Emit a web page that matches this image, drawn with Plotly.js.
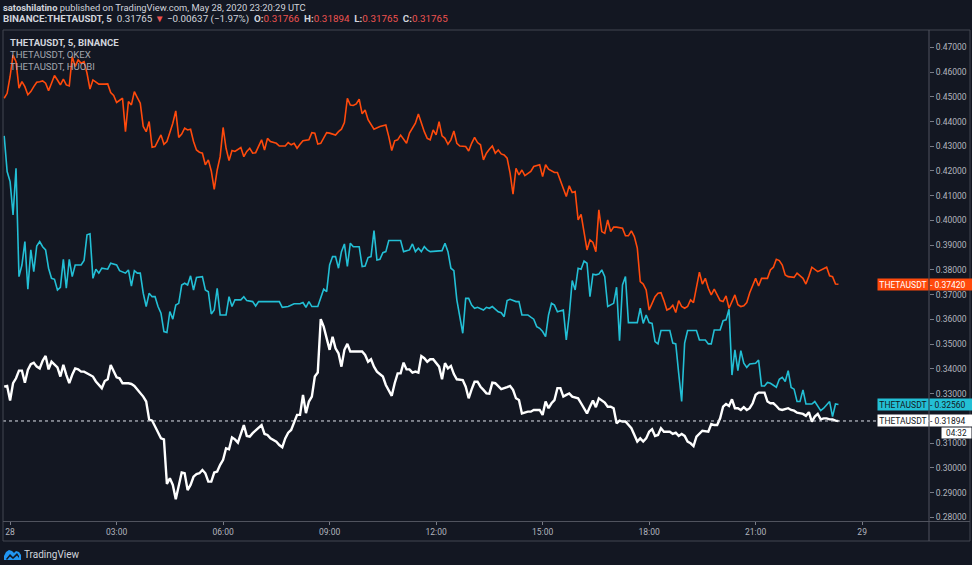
<!DOCTYPE html>
<html>
<head>
<meta charset="utf-8">
<script src="https://cdn.plot.ly/plotly-3.0.1.min.js"></script>
<style>
html,body{margin:0;padding:0;background:#131722;}
#chart{width:972px;height:565px;}
</style>
</head>
<body>
<div id="chart"></div>
<script>
// ---- data (x = minutes after 2020-05-28 00:00 UTC) ----
const timeTickVals = [0, 180, 360, 540, 720, 900, 1080, 1260, 1440];
const timeTickText = ['28', '03:00', '06:00', '09:00', '12:00', '15:00', '18:00', '21:00', '29'];
// price ticks shown on the right scale (0.32000 is hidden behind the last-price label)
const priceTicks = [0.28, 0.29, 0.30, 0.31, 0.33, 0.34, 0.35, 0.36, 0.37, 0.38, 0.39, 0.40, 0.41, 0.42, 0.43, 0.44, 0.45, 0.46, 0.47];

const okexMin = [-10,-5,0,5,10,15,20,25,30,35,40,45,50,55,60,65,70,75,80,85,90,95,100,105,110,115,120,125,130,135,140,145,150,160,165,170,175,180,185,190,195,200,205,210,215,220,225,230,235,240,245,250,255,260,265,270,275,280,285,290,295,300,305,310,315,320,325,330,335,340,345,350,355,360,365,370,375,380,390,395,400,405,410,415,420,425,430,435,440,450,455,465,470,475,480,485,490,495,505,510,515,520,525,530,535,540,550,555,560,565,570,575,580,585,590,595,600,605,610,615,625,635,640,645,650,655,660,665,670,675,685,690,695,700,705,710,715,720,725,730,735,740,745,750,755,760,770,775,780,785,790,795,800,805,810,815,820,825,830,835,840,845,850,855,860,865,870,875,880,885,895,900,905,910,920,925,930,935,940,945,950,955,960,965,970,975,980,985,990,995,1000,1005,1010,1015,1020,1025,1035,1040,1045,1050,1055,1060,1065,1070,1075,1080,1085,1090,1095,1100,1105,1110,1115,1120,1125,1130,1135,1140,1145,1150,1155,1160,1165,1170,1175,1180,1185,1190,1195,1200,1205,1210,1215,1220,1225,1230,1235,1240,1245,1250,1260,1265,1270,1280,1285,1290,1295,1300,1305,1310,1315,1325,1330,1340,1345,1350,1355,1365,1370,1380,1385,1390,1395,1400];
const okexVal = [0.4494,0.4514,0.4582,0.4669,0.4642,0.4535,0.4561,0.4541,0.4508,0.4521,0.4541,0.4559,0.4561,0.4564,0.4555,0.4525,0.4555,0.4586,0.4568,0.4548,0.4571,0.4548,0.4544,0.4663,0.4622,0.4649,0.4636,0.4642,0.4595,0.4531,0.4568,0.4561,0.4551,0.4551,0.4552,0.4517,0.4505,0.4477,0.4487,0.4494,0.4359,0.4481,0.4467,0.4521,0.4497,0.4474,0.4380,0.4359,0.4400,0.4296,0.4299,0.4326,0.4346,0.4308,0.4319,0.4356,0.4393,0.4443,0.4336,0.4349,0.4373,0.4366,0.4369,0.4319,0.4285,0.4276,0.4272,0.4225,0.4245,0.4200,0.4126,0.4204,0.4258,0.4376,0.4292,0.4242,0.4283,0.4279,0.4295,0.4258,0.4279,0.4292,0.4272,0.4274,0.4299,0.4326,0.4285,0.4332,0.4319,0.4312,0.4301,0.4301,0.4315,0.4306,0.4312,0.4292,0.4308,0.4322,0.4326,0.4355,0.4353,0.4309,0.4312,0.4335,0.4355,0.4353,0.4345,0.4359,0.4369,0.4396,0.4494,0.4467,0.4465,0.4471,0.4490,0.4431,0.4447,0.4407,0.4386,0.4369,0.4380,0.4386,0.4339,0.4283,0.4322,0.4326,0.4345,0.4326,0.4312,0.4353,0.4393,0.4430,0.4393,0.4359,0.4332,0.4326,0.4366,0.4346,0.4399,0.4342,0.4332,0.4308,0.4326,0.4362,0.4312,0.4301,0.4299,0.4281,0.4312,0.4336,0.4315,0.4306,0.4245,0.4272,0.4288,0.4301,0.4272,0.4285,0.4269,0.4265,0.4252,0.4191,0.4106,0.4211,0.4184,0.4204,0.4181,0.4188,0.4198,0.4218,0.4225,0.4177,0.4225,0.4207,0.4194,0.4194,0.4164,0.4130,0.4097,0.4140,0.4113,0.4117,0.4002,0.4025,0.3948,0.3881,0.3921,0.3911,0.3874,0.4043,0.3955,0.3948,0.4002,0.3955,0.3973,0.3973,0.3969,0.3938,0.3938,0.3958,0.3935,0.3888,0.3753,0.3743,0.3719,0.3638,0.3665,0.3692,0.3706,0.3708,0.3676,0.3638,0.3644,0.3657,0.3628,0.3676,0.3652,0.3645,0.3652,0.3679,0.3668,0.3726,0.3791,0.3743,0.3766,0.3726,0.3699,0.3722,0.3699,0.3676,0.3672,0.3695,0.3645,0.3672,0.3699,0.3659,0.3652,0.3655,0.3668,0.3708,0.3766,0.3735,0.3766,0.3766,0.3800,0.3811,0.3843,0.3838,0.3820,0.3780,0.3773,0.3770,0.3787,0.3766,0.3743,0.3775,0.3811,0.3793,0.3800,0.3811,0.3776,0.3773,0.3743,0.3742];

const huobiMin = [-10,-5,0,5,10,15,20,25,30,35,40,45,50,55,60,65,70,75,80,85,90,95,100,105,110,120,125,130,135,140,145,150,155,165,170,180,185,190,195,200,205,210,215,220,225,230,235,240,245,250,255,260,265,270,275,280,285,290,295,300,305,310,315,325,330,335,340,345,350,355,365,370,375,380,390,395,400,410,415,420,455,460,470,480,490,495,500,505,510,520,525,530,535,540,545,550,555,560,565,570,575,580,590,595,600,605,610,615,620,625,630,635,640,660,665,675,680,685,690,695,700,705,710,730,735,740,745,750,755,760,765,770,775,780,785,790,800,805,810,815,825,830,835,840,845,855,860,865,875,880,885,890,895,900,905,910,915,920,925,935,940,945,950,955,960,965,970,975,980,985,990,995,1000,1005,1010,1020,1025,1030,1035,1040,1045,1060,1065,1070,1075,1080,1085,1090,1095,1100,1115,1120,1125,1130,1135,1140,1145,1160,1165,1175,1180,1185,1190,1200,1205,1210,1215,1220,1225,1230,1235,1240,1245,1250,1260,1265,1270,1275,1280,1285,1295,1300,1305,1310,1315,1320,1325,1330,1335,1340,1345,1350,1355,1360,1365,1370,1375,1385,1390,1395,1400];
const huobiVal = [0.4342,0.4198,0.4157,0.4022,0.4211,0.3773,0.3820,0.3915,0.3722,0.3881,0.3793,0.3897,0.3915,0.3894,0.3881,0.3807,0.3766,0.3762,0.3719,0.3730,0.3843,0.3726,0.3843,0.3773,0.3820,0.3820,0.3838,0.3942,0.3946,0.3766,0.3803,0.3787,0.3807,0.3803,0.3827,0.3820,0.3797,0.3793,0.3787,0.3800,0.3735,0.3797,0.3787,0.3787,0.3706,0.3652,0.3706,0.3692,0.3692,0.3652,0.3625,0.3551,0.3547,0.3632,0.3601,0.3658,0.3665,0.3739,0.3746,0.3739,0.3776,0.3719,0.3770,0.3773,0.3719,0.3712,0.3622,0.3638,0.3726,0.3618,0.3618,0.3692,0.3652,0.3679,0.3679,0.3692,0.3676,0.3672,0.3654,0.3672,0.3672,0.3649,0.3652,0.3663,0.3663,0.3668,0.3649,0.3672,0.3652,0.3652,0.3686,0.3722,0.3712,0.3820,0.3854,0.3854,0.3807,0.3874,0.3905,0.3814,0.3908,0.3894,0.3894,0.3814,0.3816,0.3850,0.3854,0.3959,0.3840,0.3843,0.3870,0.3874,0.3919,0.3919,0.3874,0.3881,0.3905,0.3874,0.3888,0.3874,0.3894,0.3881,0.3874,0.3878,0.3908,0.3874,0.3807,0.3797,0.3679,0.3618,0.3544,0.3685,0.3685,0.3658,0.3645,0.3649,0.3638,0.3649,0.3645,0.3652,0.3631,0.3627,0.3611,0.3676,0.3681,0.3672,0.3672,0.3618,0.3618,0.3609,0.3601,0.3571,0.3564,0.3551,0.3530,0.3618,0.3665,0.3658,0.3631,0.3638,0.3517,0.3618,0.3757,0.3719,0.3807,0.3803,0.3836,0.3827,0.3692,0.3783,0.3780,0.3783,0.3800,0.3773,0.3652,0.3665,0.3730,0.3514,0.3739,0.3773,0.3587,0.3587,0.3645,0.3584,0.3618,0.3587,0.3584,0.3510,0.3501,0.3555,0.3555,0.3504,0.3501,0.3382,0.3268,0.3504,0.3555,0.3555,0.3517,0.3517,0.3501,0.3501,0.3557,0.3557,0.3595,0.3598,0.3641,0.3375,0.3477,0.3393,0.3474,0.3423,0.3406,0.3420,0.3423,0.3436,0.3331,0.3331,0.3345,0.3342,0.3326,0.3358,0.3366,0.3349,0.3393,0.3325,0.3318,0.3268,0.3268,0.3315,0.3258,0.3258,0.3258,0.3268,0.3248,0.3231,0.3241,0.3268,0.3207,0.3258,0.3256];

const binanceMin = [-10,-5,0,5,10,15,20,25,30,35,40,45,50,55,60,65,70,75,80,85,90,95,100,105,110,115,120,125,135,140,145,155,160,165,170,175,180,185,190,200,205,210,220,225,230,235,240,245,250,255,260,265,270,275,280,285,290,295,300,305,310,315,320,325,330,335,340,345,350,355,360,365,370,375,380,385,390,395,400,405,410,420,425,430,435,440,450,455,460,465,470,475,480,485,490,495,500,505,510,515,520,525,530,535,540,545,550,555,560,565,570,575,585,595,600,605,610,615,620,630,635,640,645,650,655,660,665,670,675,680,685,690,695,700,705,710,715,725,730,735,740,745,750,755,765,770,775,780,785,790,795,800,805,810,815,820,825,830,840,845,850,855,860,865,875,880,885,895,900,905,910,915,920,925,930,935,940,945,950,960,965,975,980,985,990,995,1005,1010,1015,1020,1025,1030,1035,1040,1050,1055,1060,1065,1070,1075,1080,1085,1090,1095,1100,1105,1115,1120,1125,1130,1135,1140,1145,1150,1155,1160,1165,1170,1180,1185,1190,1195,1200,1205,1210,1215,1220,1225,1230,1235,1240,1245,1250,1255,1260,1265,1275,1280,1285,1290,1295,1300,1305,1315,1320,1325,1330,1335,1340,1345,1350,1355,1360,1365,1370,1375,1380,1385,1390,1395,1400];
const binanceVal = [0.3328,0.3331,0.3272,0.3342,0.3362,0.3393,0.3393,0.3344,0.3396,0.3419,0.3425,0.3409,0.3402,0.3433,0.3452,0.3398,0.3429,0.3416,0.3406,0.3369,0.3416,0.3376,0.3342,0.3376,0.3402,0.3398,0.3389,0.3389,0.3376,0.3369,0.3349,0.3322,0.3351,0.3358,0.3416,0.3389,0.3366,0.3362,0.3342,0.3342,0.3339,0.3331,0.3304,0.3288,0.3268,0.3196,0.3191,0.3167,0.3146,0.3119,0.3115,0.2935,0.2958,0.2931,0.2873,0.2921,0.2981,0.2978,0.2910,0.2931,0.2964,0.2975,0.2978,0.2991,0.2978,0.2944,0.2944,0.2981,0.2985,0.3012,0.3032,0.3079,0.3075,0.3123,0.3115,0.3102,0.3140,0.3173,0.3129,0.3126,0.3140,0.3160,0.3173,0.3137,0.3133,0.3119,0.3106,0.3092,0.3083,0.3119,0.3142,0.3153,0.3180,0.3214,0.3214,0.3295,0.3221,0.3268,0.3288,0.3369,0.3385,0.3601,0.3571,0.3517,0.3477,0.3530,0.3483,0.3463,0.3409,0.3477,0.3501,0.3470,0.3470,0.3470,0.3456,0.3429,0.3439,0.3409,0.3389,0.3369,0.3335,0.3315,0.3291,0.3342,0.3382,0.3382,0.3425,0.3398,0.3398,0.3385,0.3389,0.3385,0.3452,0.3443,0.3429,0.3439,0.3439,0.3409,0.3358,0.3423,0.3402,0.3412,0.3379,0.3358,0.3355,0.3328,0.3281,0.3317,0.3348,0.3348,0.3328,0.3315,0.3301,0.3300,0.3344,0.3342,0.3328,0.3318,0.3326,0.3331,0.3315,0.3281,0.3274,0.3220,0.3227,0.3227,0.3234,0.3234,0.3214,0.3268,0.3241,0.3261,0.3274,0.3322,0.3322,0.3288,0.3295,0.3301,0.3288,0.3281,0.3261,0.3220,0.3247,0.3272,0.3245,0.3281,0.3264,0.3247,0.3247,0.3241,0.3180,0.3191,0.3187,0.3187,0.3160,0.3133,0.3106,0.3119,0.3106,0.3119,0.3146,0.3156,0.3129,0.3133,0.3160,0.3146,0.3146,0.3137,0.3142,0.3129,0.3137,0.3129,0.3106,0.3099,0.3088,0.3126,0.3140,0.3150,0.3146,0.3177,0.3173,0.3173,0.3200,0.3247,0.3258,0.3250,0.3277,0.3241,0.3241,0.3234,0.3245,0.3234,0.3241,0.3261,0.3295,0.3304,0.3304,0.3268,0.3261,0.3261,0.3250,0.3237,0.3234,0.3241,0.3234,0.3231,0.3223,0.3220,0.3218,0.3210,0.3225,0.3187,0.3207,0.3218,0.3196,0.3200,0.3200,0.3196,0.3196,0.3191,0.3189];

const lastPrices = {okex: '0.37420', huobi: '0.32560', binance: '0.31894'};
const seriesNames = ['THETAUSDT, 5, BINANCE', 'THETAUSDT, OKEX', 'THETAUSDT, HUOBI'];

// ---- styling / layout ----
const BG = '#131722';
const ORANGE = '#ff4a0c';
const CYAN = '#23bfd5';
const WHITE = '#ffffff';
const TXT = '#d1d4dc';
const AX = '#b2b5be';
const BORDER = '#434651';
const FONT = 'Roboto, "Noto Sans", sans-serif';

const W = 972, H = 565;
const M = {l: 3, r: 43, t: 30, b: 44};
const PW = W - M.l - M.r, PH = H - M.t - M.b;
const px = x => (x - M.l) / PW;
const py = y => (H - M.b - y) / PH;

const traces = [
  {x: okexMin, y: okexVal, type: 'scatter', mode: 'lines', line: {color: ORANGE, width: 1.6}, name: seriesNames[1], hoverinfo: 'skip'},
  {x: huobiMin, y: huobiVal, type: 'scatter', mode: 'lines', line: {color: CYAN, width: 1.6}, name: seriesNames[2], hoverinfo: 'skip'},
  {x: binanceMin, y: binanceVal, type: 'scatter', mode: 'lines', line: {color: WHITE, width: 2.4}, name: seriesNames[0], hoverinfo: 'skip'}
];

const annotations = [];
function txt(text, x, y, size, color, extra) {
  annotations.push(Object.assign({xref: 'paper', yref: 'paper', x: px(x), y: py(y), xanchor: 'left', yanchor: 'middle',
    text: text, showarrow: false, font: {family: FONT, size: size, color: color}}, extra || {}));
}
const RED = '#ef5350';
txt('<b>satoshilatino</b> published on TradingView.com, May 28, 2020 23:20:29 UTC', 1, 7, 9.4, TXT);
txt('<b>BINANCE:THETAUSDT, 5</b>  0.31765 <span style="color:' + RED + '">▼</span> −0.00637 (−1.97%)  <b>O:</b><span style="color:' + RED + '">0.31766</span>  <b>H:</b><span style="color:' + RED + '">0.31894</span>  <b>L:</b><span style="color:' + RED + '">0.31765</span>  <b>C:</b><span style="color:' + RED + '">0.31765</span>', 1, 19, 9.8, TXT);
txt('<b>' + seriesNames[0] + '</b>', 8, 42, 9.6, TXT);
txt(seriesNames[1], 8, 54, 9.6, '#a3a6af');
txt(seriesNames[2], 8, 66, 9.6, '#a3a6af');
txt('TradingView', 22, 554, 10, TXT);

function priceLabel(val, bg, fg) {
  annotations.push({xref: 'paper', yref: 'y', x: 1, y: parseFloat(val), xanchor: 'right', yanchor: 'middle',
    text: 'THETAUSDT', showarrow: false, bgcolor: bg, width: 50, height: 11, borderpad: 0,
    font: {family: FONT, size: 8.5, color: fg}});
  annotations.push({xref: 'paper', yref: 'y', x: 1, y: parseFloat(val), xanchor: 'left', yanchor: 'middle',
    text: '- ' + val, showarrow: false, bgcolor: bg, width: 42, height: 11, borderpad: 0, align: 'left',
    font: {family: FONT, size: 8.5, color: fg}});
}
priceLabel(lastPrices.okex, ORANGE, '#ffffff');
priceLabel(lastPrices.huobi, CYAN, '#131722');
priceLabel(lastPrices.binance, '#ffffff', '#131722');
annotations.push({xref: 'paper', yref: 'paper', x: px(941), y: py(432.5), xanchor: 'left', yanchor: 'middle',
  text: '04:32', showarrow: false, bgcolor: '#ffffff', width: 29, height: 10, borderpad: 0,
  font: {family: FONT, size: 8.2, color: '#131722'}});

function pathFromPx(points) {
  return 'M' + points.map(p => px(p[0]) + ',' + py(p[1])).join(' L') + ' Z';
}

const shapes = [
  {type: 'line', xref: 'paper', yref: 'y', x0: 0, x1: 1, y0: parseFloat(lastPrices.binance), y1: parseFloat(lastPrices.binance),
   line: {color: '#e0e3eb', width: 1, dash: 'dot'}, layer: 'above'},
  {type: 'rect', xref: 'paper', yref: 'paper', x0: px(3), x1: px(970), y0: py(30), y1: py(541), line: {color: BORDER, width: 1}},
  {type: 'line', xref: 'paper', yref: 'paper', x0: px(929), x1: px(929), y0: py(30), y1: py(541), line: {color: '#50535e', width: 1}, layer: 'above'},
  {type: 'line', xref: 'paper', yref: 'paper', x0: px(3), x1: px(970), y0: py(521.5), y1: py(521.5), line: {color: '#50535e', width: 1}},
  // TradingView cloud logo
  {type: 'path', xref: 'paper', yref: 'paper', fillcolor: '#2196f3', line: {width: 0},
   path: pathFromPx([[4,560],[4,556],[6,552],[9,550],[12,551],[14,553],[16,551],[19,552],[21,555],[21,560]])},
  {type: 'path', xref: 'paper', yref: 'paper', fillcolor: '#131722', line: {width: 0},
   path: pathFromPx([[6,559],[10,554],[13,557],[17,553],[19,556],[19,558],[17,555.5],[13,559],[10,556.5],[7,560]])}
];

const layout = {
  width: W, height: H,
  margin: M,
  paper_bgcolor: BG, plot_bgcolor: BG,
  showlegend: false,
  font: {family: FONT, color: AX},
  xaxis: {
    range: [-12, 1553], tickmode: 'array', tickvals: timeTickVals, ticktext: timeTickText,
    showgrid: false, zeroline: false, showline: false,
    ticks: 'outside', ticklen: 3, tickcolor: '#787b86', tickfont: {family: FONT, size: 8.5, color: AX}
  },
  yaxis: {
    side: 'right', range: [0.2785, 0.4770], tickmode: 'array', tickvals: priceTicks, tickformat: '.5f',
    showgrid: false, zeroline: false, showline: false,
    ticks: 'outside', ticklen: 4, tickcolor: '#787b86', tickfont: {family: FONT, size: 8.5, color: AX}
  },
  annotations: annotations,
  shapes: shapes
};

Plotly.newPlot('chart', traces, layout, {staticPlot: true, displayModeBar: false});
</script>
</body>
</html>
